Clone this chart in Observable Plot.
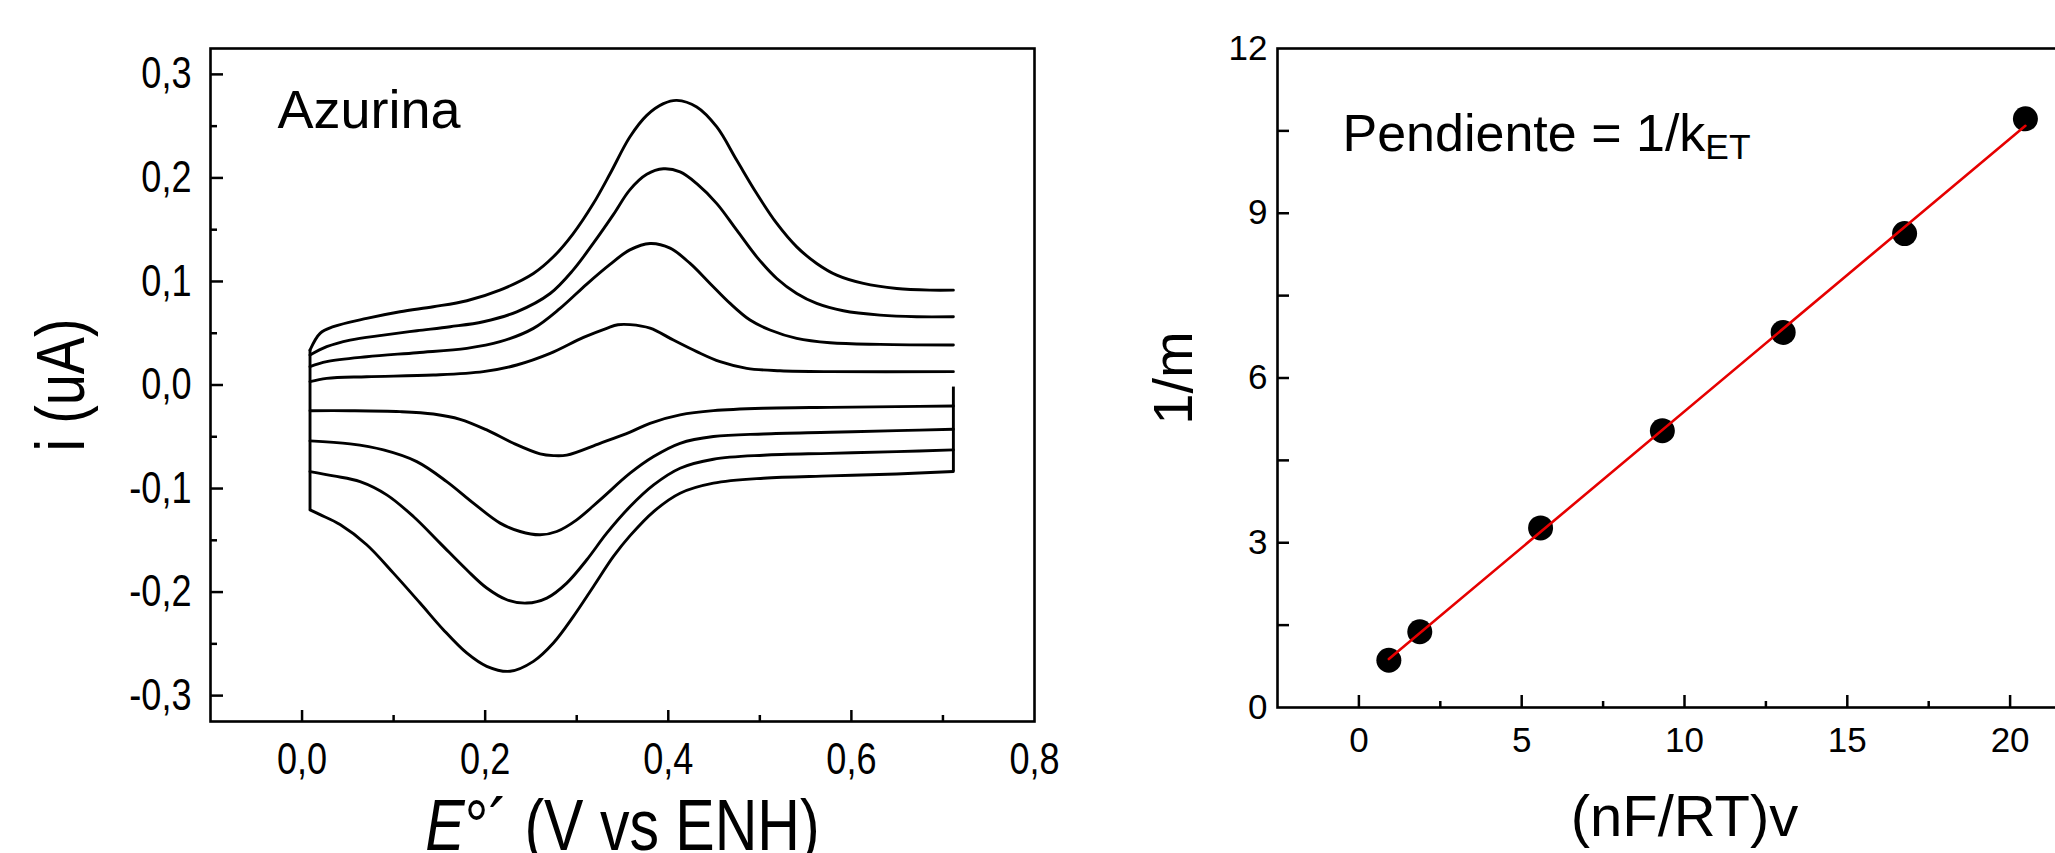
<!DOCTYPE html>
<html><head><meta charset="utf-8">
<script src="https://cdn.jsdelivr.net/npm/d3@7"></script>
<script src="https://cdn.jsdelivr.net/npm/@observablehq/plot@0.6"></script>
<style>
html,body{margin:0;padding:0;background:#fff;overflow:hidden;}
#wrap{position:relative;width:2055px;height:853px;overflow:hidden;background:#fff;}
#left{position:absolute;left:0;top:0;width:1100px;height:853px;}
#right{position:absolute;left:1100px;top:0;width:991px;height:853px;}
#wrap svg{max-width:none !important;display:block;}
</style></head><body><div id="wrap"><div id="left"></div><div id="right"></div></div>
<script>
// ---------- Left panel: cyclic voltammograms (E in V, i in uA) ----------
// oxidation branches [E, i]
const oxA = [[0.0087,0.0032],[0.0269,0.0064],[0.0706,0.008],[0.1434,0.0096],[0.198,0.0129],[0.2345,0.0193],[0.271,0.0305],[0.3074,0.046],[0.3328,0.0548],[0.345,0.0582],[0.3583,0.0583],[0.3801,0.0549],[0.4056,0.0434],[0.4311,0.0322],[0.4566,0.0225],[0.4857,0.0161],[0.5221,0.0138],[0.5767,0.0129],[0.7114,0.0129]];
const oxB = [[0.0087,0.0177],[0.0269,0.0225],[0.0706,0.0273],[0.1253,0.0312],[0.18,0.0354],[0.2163,0.0418],[0.2527,0.0547],[0.2818,0.074],[0.311,0.0975],[0.3364,0.1165],[0.358,0.1305],[0.3801,0.1367],[0.402,0.1322],[0.4238,0.1174],[0.4456,0.0981],[0.4675,0.0788],[0.4893,0.0627],[0.5111,0.0531],[0.5403,0.045],[0.5767,0.0408],[0.6313,0.0392],[0.7114,0.0386]];
const oxC = [[0.0087,0.0289],[0.0269,0.037],[0.0524,0.0434],[0.0889,0.0482],[0.1253,0.0524],[0.1617,0.0563],[0.198,0.0611],[0.2345,0.0707],[0.271,0.0884],[0.296,0.111],[0.318,0.1367],[0.34,0.1645],[0.358,0.1885],[0.3765,0.2035],[0.3947,0.2088],[0.4129,0.2058],[0.4311,0.1945],[0.453,0.1752],[0.4748,0.1495],[0.4966,0.1238],[0.5185,0.1029],[0.5403,0.0884],[0.5621,0.0788],[0.5912,0.0717],[0.6313,0.0675],[0.6713,0.0659],[0.7114,0.0659]];
const oxD = [[0.0087,0.0338],[0.0197,0.0499],[0.0342,0.0563],[0.0706,0.0643],[0.107,0.0707],[0.1434,0.0756],[0.18,0.0814],[0.216,0.0916],[0.2527,0.1077],[0.2745,0.1238],[0.296,0.146],[0.318,0.175],[0.3364,0.204],[0.358,0.2395],[0.3765,0.2604],[0.3947,0.2717],[0.4093,0.2749],[0.4311,0.2685],[0.453,0.2492],[0.4748,0.217],[0.4966,0.1849],[0.5185,0.156],[0.5403,0.1334],[0.5621,0.1174],[0.584,0.1061],[0.6131,0.0981],[0.6495,0.0932],[0.686,0.0916],[0.7114,0.0916]];
// reduction branches [E, i]
const redA = [[0.0087,-0.0248],[0.0524,-0.0248],[0.107,-0.0257],[0.1434,-0.028],[0.1726,-0.0331],[0.2017,-0.0434],[0.2309,-0.0563],[0.26,-0.0665],[0.2745,-0.0682],[0.2891,-0.0677],[0.3255,-0.0563],[0.3583,-0.0455],[0.38,-0.037],[0.4129,-0.0289],[0.4493,-0.0248],[0.5039,-0.0225],[0.5767,-0.0216],[0.6495,-0.0209],[0.7114,-0.0203]];
const redB = [[0.0087,-0.054],[0.0524,-0.0569],[0.0889,-0.0627],[0.1253,-0.074],[0.158,-0.0933],[0.1871,-0.1141],[0.2163,-0.1334],[0.2382,-0.1415],[0.26,-0.1447],[0.2782,-0.1415],[0.3,-0.1302],[0.3255,-0.1109],[0.3583,-0.0852],[0.384,-0.0691],[0.4129,-0.0563],[0.4493,-0.0498],[0.5039,-0.0473],[0.5767,-0.0457],[0.6495,-0.0441],[0.7114,-0.0428]];
const redC = [[0.0087,-0.0836],[0.0343,-0.0878],[0.0634,-0.0933],[0.0925,-0.1061],[0.1216,-0.127],[0.1507,-0.1527],[0.1798,-0.1785],[0.2017,-0.1961],[0.2236,-0.2074],[0.2454,-0.2106],[0.2673,-0.2058],[0.2891,-0.1913],[0.311,-0.1688],[0.3328,-0.1431],[0.3583,-0.1174],[0.384,-0.0965],[0.4129,-0.0804],[0.4493,-0.0717],[0.5039,-0.0678],[0.5767,-0.066],[0.6495,-0.0643],[0.7114,-0.0627]];
const redD = [[0.0087,-0.1206],[0.0197,-0.1252],[0.0415,-0.1348],[0.0706,-0.1543],[0.0998,-0.1817],[0.1289,-0.2106],[0.1543,-0.2363],[0.1798,-0.2588],[0.2017,-0.2717],[0.2272,-0.2765],[0.2527,-0.2669],[0.2745,-0.2492],[0.2964,-0.2235],[0.3183,-0.1946],[0.3401,-0.1656],[0.3583,-0.1455],[0.384,-0.1222],[0.4129,-0.1045],[0.4493,-0.0948],[0.5039,-0.09],[0.5767,-0.0878],[0.6495,-0.0859],[0.7114,-0.0836]];
// switching-potential vertical segments
const edgeE = [0.0087, 0.7114];
const edgeLow = [-0.1206, -0.0836];
const edgeHigh = [0.0338, -0.002];
// left axis ticks
const cvXLabels = [0, 0.2, 0.4, 0.6, 0.8];
const cvXMajor = [0, 0.2, 0.4, 0.6];
const cvXMinor = [0.1, 0.3, 0.5, 0.7];
const cvYLabels = [-0.3, -0.2, -0.1, 0, 0.1, 0.2, 0.3];
const cvYMinor = [-0.25, -0.15, -0.05, 0.05, 0.15, 0.25];

// ---------- Right panel: 1/m vs (nF/RT)v ----------
const rateX = [0.92, 1.87, 5.58, 9.32, 13.03, 16.76, 20.47];
const invM  = [0.86, 1.38, 3.27, 5.04, 6.83, 8.63, 10.72];
const kXLabels = [0, 5, 10, 15, 20];
const kXMinor = [2.5, 7.5, 12.5, 17.5];
const kYLabels = [0, 3, 6, 9, 12];
const kYMajor = [3, 6, 9];
const kYMinor = [1.5, 4.5, 7.5, 10.5];

const REG = "'Liberation Sans',Arial,Helvetica,sans-serif";
const NARROW_FACTOR = 0.82;

const cvRows = [];
[["A",oxA,redA],["B",oxB,redB],["C",oxC,redC],["D",oxD,redD]].forEach(([s,ox,red])=>{
  ox.forEach(([E,i])=>cvRows.push({E,i,z:s+"ox"}));
  red.forEach(([E,i])=>cvRows.push({E,i,z:s+"red"}));
});
const edges = edgeE.map((E,k)=>({E, lo:edgeLow[k], hi:edgeHigh[k]}));
const fmtComma = d => (Math.abs(d)<1e-9 ? 0 : d).toFixed(1).replace(".", ",");

// Left plot geometry
const LW = 1100, LH = 853, LML = 210, LMR = 66, LMT = 48, LMB = 132;
const lFrameW = LW - LML - LMR, lFrameH = LH - LMT - LMB;

const left = Plot.plot({
  width: LW, height: LH,
  marginLeft: LML, marginRight: LMR, marginTop: LMT, marginBottom: LMB,
  style: {background: "#fff", color: "#000", fontFamily: REG, maxWidth: "none"},
  x: {domain: [-0.1, 0.8]},
  y: {domain: [-0.325, 0.325]},
  marks: [
    Plot.line(cvRows, {x: "E", y: "i", z: "z", curve: "catmull-rom", stroke: "#000", strokeWidth: 2.9}),
    Plot.ruleX(edges, {x: "E", y1: "lo", y2: "hi", stroke: "#000", strokeWidth: 2.9}),
    Plot.tickY(cvYLabels, {y: d=>d, stroke:"#000", strokeWidth: 2.5, insetRight: lFrameW - 13}),
    Plot.tickY(cvYMinor, {y: d=>d, stroke:"#000", strokeWidth: 2.5, insetRight: lFrameW - 7}),
    Plot.tickX(cvXMajor, {x: d=>d, stroke:"#000", strokeWidth: 2.5, insetTop: lFrameH - 11}),
    Plot.tickX(cvXMinor, {x: d=>d, stroke:"#000", strokeWidth: 2.5, insetTop: lFrameH - 6}),
    Plot.axisY(cvYLabels, {anchor: "left", tickSize: 0, tickPadding: 19, tickFormat: fmtComma, fontSize: 44, label: null}),
    Plot.axisX(cvXLabels, {anchor: "bottom", tickSize: 0, tickPadding: 21, tickFormat: fmtComma, fontSize: 44, label: null}),
    Plot.frame({stroke: "#000", strokeWidth: 2.6}),
    Plot.text(["Azurina"], {frameAnchor: "top-left", dx: 67, dy: 79, textAnchor: "start", lineAnchor: "bottom", fontSize: 54, fill: "#000"}),
    Plot.text(["i (uA)"], {frameAnchor: "left", dx: -148, rotate: -90, textAnchor: "middle", lineAnchor: "middle", fontSize: 68, fill: "#000"}),
    Plot.text(["E°´ (V vs ENH)"], {frameAnchor: "bottom", dy: 128, textAnchor: "middle", lineAnchor: "bottom", fontSize: 72, fill: "#000"})
  ]
});
document.getElementById("left").appendChild(left);

// Right plot geometry
const RW = 991, RH = 853, RML = 177, RMR = 0, RMT = 48, RMB = 146;
const rFrameW = RW - RML - RMR, rFrameH = RH - RMT - RMB;
const pts = rateX.map((x,k)=>({x, y: invM[k]}));

const right = Plot.plot({
  width: RW, height: RH,
  marginLeft: RML, marginRight: RMR, marginTop: RMT, marginBottom: RMB,
  style: {background: "#fff", color: "#000", fontFamily: REG, maxWidth: "none"},
  x: {domain: [-2.5, 22.5]},
  y: {domain: [0, 12]},
  marks: [
    Plot.dot(pts, {x: "x", y: "y", r: 12.5, fill: "#000", stroke: "none"}),
    Plot.linearRegressionY(pts, {x: "x", y: "y", ci: 0, stroke: "#e60000", strokeWidth: 2.6}),
    Plot.tickY(kYMajor, {y: d=>d, stroke:"#000", strokeWidth: 2.5, insetRight: rFrameW - 12}),
    Plot.tickY(kYMinor, {y: d=>d, stroke:"#000", strokeWidth: 2.5, insetRight: rFrameW - 12}),
    Plot.tickX(kXLabels, {x: d=>d, stroke:"#000", strokeWidth: 2.5, insetTop: rFrameH - 12}),
    Plot.tickX(kXMinor, {x: d=>d, stroke:"#000", strokeWidth: 2.5, insetTop: rFrameH - 6}),
    Plot.axisY(kYLabels, {anchor: "left", tickSize: 0, tickPadding: 10, tickFormat: d => String(d), fontSize: 35, label: null}),
    Plot.axisX(kXLabels, {anchor: "bottom", tickSize: 0, tickPadding: 20, tickFormat: d => String(d), fontSize: 35, label: null}),
    Plot.frame({stroke: "#000", strokeWidth: 2.6}),
    Plot.text(["Pendiente = 1/kET"], {frameAnchor: "top-left", dx: 65, dy: 102, textAnchor: "start", lineAnchor: "bottom", fontSize: 52, fill: "#000"}),
    Plot.text(["1/m"], {frameAnchor: "left", dx: -103, rotate: -90, textAnchor: "middle", lineAnchor: "middle", fontSize: 56, fill: "#000"}),
    Plot.text(["(nF/RT)v"], {frameAnchor: "bottom", dy: 128, textAnchor: "middle", lineAnchor: "bottom", fontSize: 58, fill: "#000"})
  ]
});
document.getElementById("right").appendChild(right);

// rich text: italic E and subscript ET
d3.selectAll("svg text").each(function(){
  const t = d3.select(this);
  const s = this.textContent;
  if (s === "E°´ (V vs ENH)") {
    t.text(null);
    t.append("tspan").attr("font-style","italic").text("E");
    t.append("tspan").text("°´ (V vs ENH)");
  } else if (s === "Pendiente = 1/kET") {
    t.text(null);
    t.append("tspan").text("Pendiente = 1/k");
    t.append("tspan").attr("font-size","0.68em").attr("dy","0.25em").text("ET");
  }
});
// condensed lettering of the left panel (tick labels and axis titles)
d3.select(left).selectAll("text").each(function(){
  if (this.textContent === "Azurina") return;
  const L = this.getComputedTextLength();
  if (L > 0) {
    this.setAttribute("textLength", (L * NARROW_FACTOR).toFixed(1));
    this.setAttribute("lengthAdjust", "spacingAndGlyphs");
  }
});
</script></body></html>
